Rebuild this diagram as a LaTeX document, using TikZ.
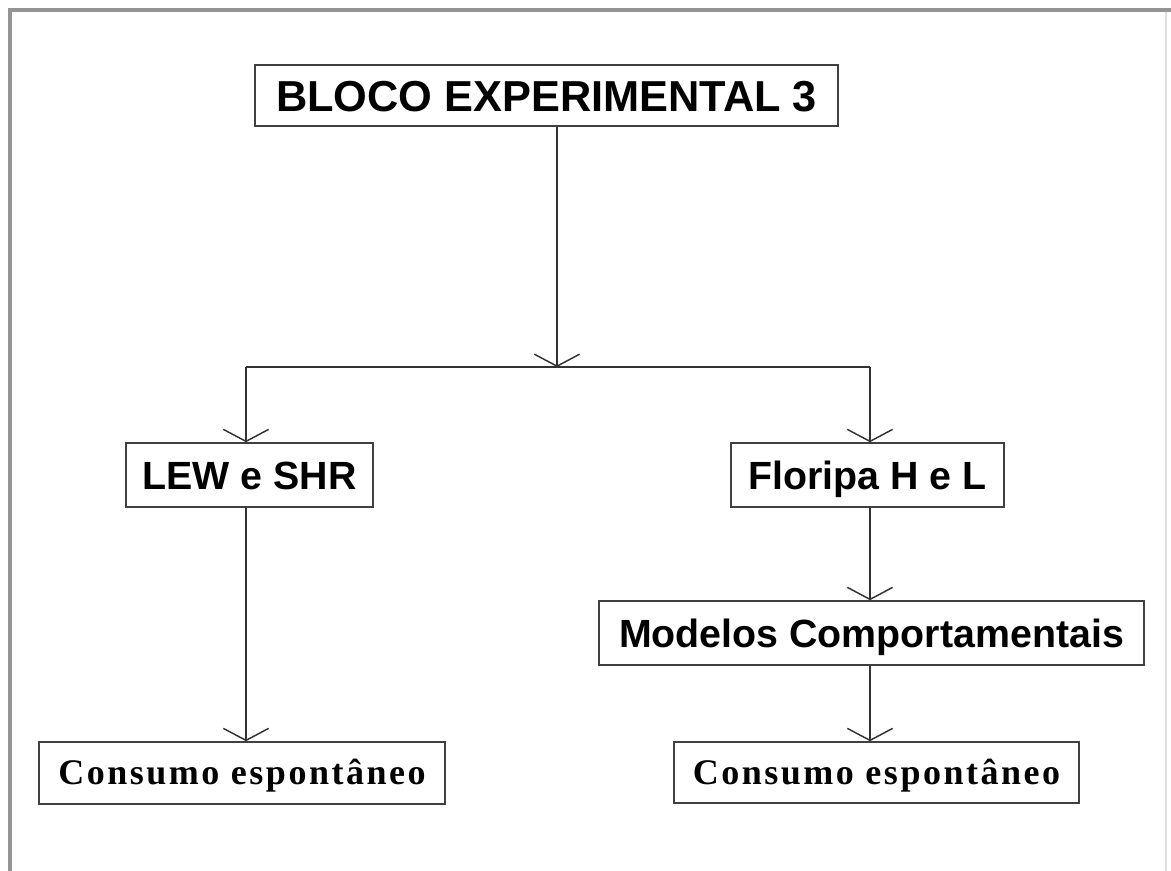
\documentclass[tikz,border=0pt]{standalone}
\usepackage{fontspec}
\setmainfont{Liberation Sans}
\newfontfamily\serifbold{Liberation Serif}[LetterSpace=7]
\usetikzlibrary{arrows.meta}

\tikzset{
  box/.style={draw=black!75, line width=1.2pt, fill=white, inner sep=0pt, anchor=center, text depth=0pt},
  titlelabel/.style={font=\fontsize{32.5}{36}\selectfont\bfseries, text height=23.3pt},
  sanslabel/.style={font=\fontsize{29.5}{33}\selectfont\bfseries, text height=21.1pt},
  seriflabel/.style={font=\serifbold\fontsize{27}{30}\selectfont\bfseries, text height=17.9pt},
  flow/.style={draw=black!80, line width=1.1pt, -{Straight Barb[length=9pt,width=34pt,line width=1.1pt]}},
  link/.style={draw=black!80, line width=1.1pt},
  frame/.style={draw=black!42, line width=3pt}
}

\begin{document}
\begin{tikzpicture}[x=0.75pt,y=-0.75pt]
  \useasboundingbox (0,0) rectangle (1171,871);
  \fill[white] (0,0) rectangle (1171,871);

  % window frame
  \draw[frame] (10,871) -- (10,10) -- (1171,10);
  \draw[draw=black!12, line width=1pt] (1166,12) -- (1166,871);

  % boxes
  \node[box, titlelabel, minimum width=583*0.75pt, minimum height=61*0.75pt] (top) at (546.5,95.5) {BLOCO EXPERIMENTAL 3};
  \node[box, sanslabel, minimum width=247*0.75pt, minimum height=64*0.75pt] (lew) at (249.5,475) {LEW e SHR};
  \node[box, sanslabel, minimum width=273*0.75pt, minimum height=64*0.75pt] (flor) at (867.5,475) {Floripa H e L};
  \node[box, sanslabel, minimum width=545*0.75pt, minimum height=64*0.75pt] (mod) at (871.5,633) {Modelos Comportamentais};
  \node[box, seriflabel, minimum width=406*0.75pt, minimum height=62*0.75pt] (consL) at (242,773) {Consumo espontâneo};
  \node[box, seriflabel, minimum width=405*0.75pt, minimum height=61*0.75pt] (consR) at (876.5,772.5) {Consumo espontâneo};

  % branching points
  \coordinate (j) at (557,367);
  \coordinate (jl) at (246,367);
  \coordinate (jr) at (870,367);

  % connectors
  \draw[flow] (top.south -| j) -- (j);
  \draw[link] (jl) -- (jr);
  \draw[flow] (jl) -- (lew.north -| jl);
  \draw[flow] (jr) -- (flor.north -| jr);
  \draw[flow] (lew.south -| jl) -- (consL.north -| jl);
  \draw[flow] (flor.south -| jr) -- (mod.north -| jr);
  \draw[flow] (mod.south -| jr) -- (consR.north -| jr);
\end{tikzpicture}
\end{document}
